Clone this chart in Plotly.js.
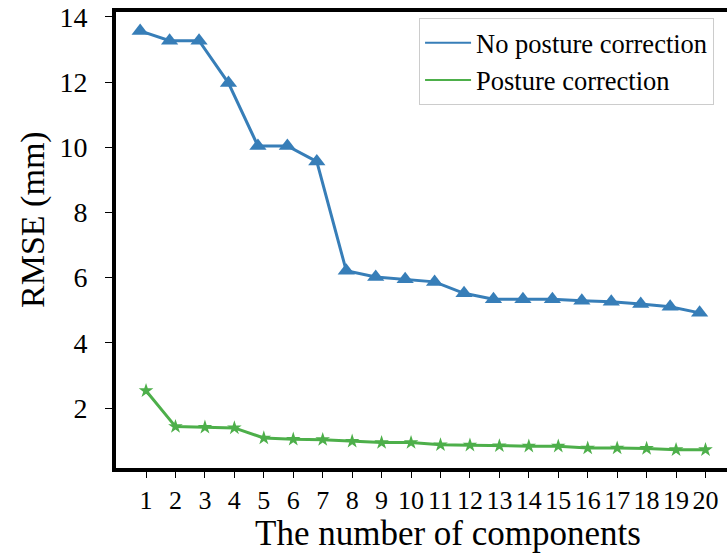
<!DOCTYPE html>
<html>
<head>
<meta charset="utf-8">
<script src="https://cdn.plot.ly/plotly-3.0.1.min.js"></script>
<style>
  html, body { margin: 0; padding: 0; background: #fff; overflow: hidden; }
  #chart { width: 727px; height: 557px; }
</style>
</head>
<body>
<div id="chart"></div>
<script>
// Number of components
const components = [1, 2, 3, 4, 5, 6, 7, 8, 9, 10, 11, 12, 13, 14, 15, 16, 17, 18, 19, 20];
// RMSE (mm) without posture correction
const rmseNoCorrection = [13.57, 13.27, 13.27, 11.97, 10.04, 10.04, 9.56, 6.21, 6.02, 5.95,
                          5.87, 5.52, 5.34, 5.34, 5.34, 5.29, 5.26, 5.19, 5.11, 4.92];
// RMSE (mm) with posture correction
const rmseCorrection = [2.53, 1.43, 1.41, 1.39, 1.08, 1.04, 1.03, 0.98, 0.94, 0.94,
                        0.87, 0.86, 0.84, 0.83, 0.83, 0.77, 0.77, 0.76, 0.72, 0.72];
const seriesNames = ["No posture correction", "Posture correction"];
const tickLabels = components.map(String);
const yTicks = [2, 4, 6, 8, 10, 12, 14];
const xTitle = "The number of components";
const yTitle = "RMSE (mm)";

const BLUE = "#377EB8";
const GREEN = "#4DAF4A";
const FONT = "Liberation Serif, serif";

const xRange = [-0.02, 20.73];
const yRange = [0.16, 14.15];

const traces = [
  {
    x: components, y: rmseNoCorrection, xaxis: "x2", yaxis: "y",
    mode: "lines+markers", showlegend: false,
    line: { color: BLUE, width: 3 },
    marker: { symbol: "triangle-up", size: 15, color: BLUE }
  },
  {
    x: components, y: rmseCorrection,
    mode: "lines+markers", showlegend: false,
    line: { color: GREEN, width: 3 },
    marker: { symbol: "star", size: 11, color: GREEN }
  },
  // legend entries (line only, as in the reference)
  { x: [null], y: [null], mode: "lines", name: seriesNames[0], line: { color: BLUE, width: 2 } },
  { x: [null], y: [null], mode: "lines", name: seriesNames[1], line: { color: GREEN, width: 2 } }
];

const layout = {
  width: 727, height: 557,
  margin: { l: 116, r: 0, t: 12, b: 89, pad: 0 },
  paper_bgcolor: "#fff", plot_bgcolor: "#fff",
  font: { family: FONT, color: "#000" },
  showlegend: true,
  legend: {
    x: 0.496, y: 0.987, xanchor: "left", yanchor: "top",
    bgcolor: "#fff", bordercolor: "#cccccc", borderwidth: 1,
    font: { family: FONT, size: 26.5, color: "#000" },
    itemwidth: 46, entrywidth: 272, entrywidthmode: "pixels",
    tracegroupgap: 0
  },
  xaxis: {
    range: xRange, tickmode: "array", tickvals: components, ticktext: tickLabels,
    showgrid: false, zeroline: false,
    showline: true, linecolor: "#000", linewidth: 4, mirror: true,
    ticks: "outside", ticklen: 6, tickwidth: 1, tickcolor: "#000",
    tickangle: 0,
    tickfont: { family: FONT, size: 26, color: "#000" }
  },
  xaxis2: {
    overlaying: "x", range: [xRange[0] + 0.2, xRange[1] + 0.2], visible: false
  },
  yaxis: {
    range: yRange, tickmode: "array", tickvals: yTicks,
    showgrid: false, zeroline: false,
    showline: true, linecolor: "#000", linewidth: 4,
    ticks: "outside", ticklen: 7, tickwidth: 1, tickcolor: "#000",
    ticklabelstandoff: 12,
    tickfont: { family: FONT, size: 28, color: "#000" }
  },
  annotations: [
    {
      text: xTitle, xref: "paper", yref: "paper", x: 0.5434, y: -0.143,
      xanchor: "center", yanchor: "middle", showarrow: false,
      font: { family: FONT, size: 35, color: "#000" }
    },
    {
      text: yTitle, xref: "paper", yref: "paper", x: -0.1358, y: 0.544,
      xanchor: "center", yanchor: "middle", showarrow: false, textangle: -90,
      font: { family: FONT, size: 34, color: "#000" }
    }
  ]
};

Plotly.newPlot("chart", traces, layout, { displayModeBar: false, staticPlot: true });
</script>
</body>
</html>
